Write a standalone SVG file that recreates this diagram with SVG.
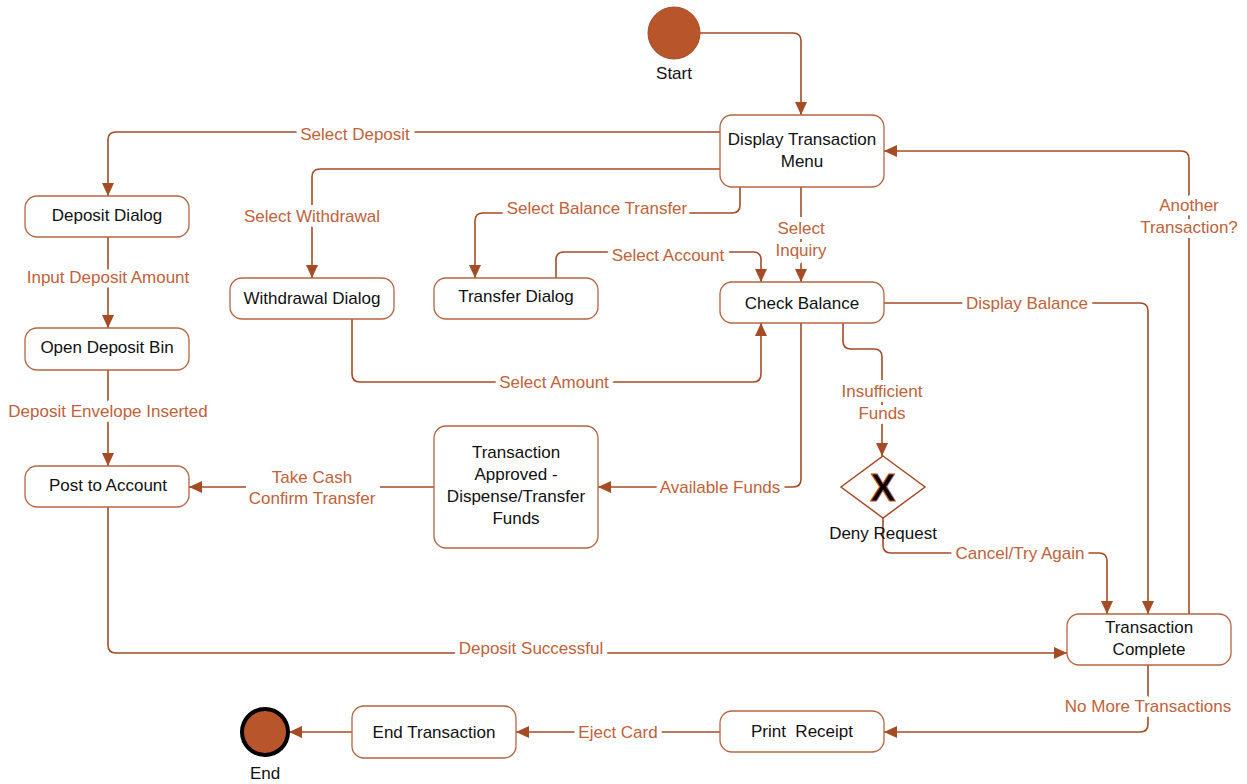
<svg xmlns="http://www.w3.org/2000/svg" width="1247" height="784" viewBox="0 0 1247 784">
<style>
.node rect{fill:#fff;stroke:#B5653F;stroke-width:1.3}
.nt{font-family:"Liberation Sans",Arial,sans-serif;font-size:17px;fill:#111;text-anchor:middle;dominant-baseline:central}
.lbl{font-family:"Liberation Sans",Arial,sans-serif;font-size:17px;fill:#C0623A;text-anchor:middle;dominant-baseline:central;stroke:#fff;stroke-width:10;paint-order:stroke;stroke-linejoin:round}
.c{fill:none;stroke:#A44C24;stroke-width:1.6;marker-end:url(#ah)}
</style>
<defs>
<marker id="ah" markerUnits="userSpaceOnUse" markerWidth="13" markerHeight="12" refX="13" refY="6" orient="auto">
<path d="M0,0 L13,6 L0,12 z" fill="#A44C24"/>
</marker>
</defs>
<rect width="1247" height="784" fill="#fff"/>
<g id="connectors">
<path class="c" d="M700,33 H793 Q801,33 801,41 V115"/>
<path class="c" d="M720,132 H116 Q108,132 108,140 V196"/>
<path class="c" d="M720,169 H320 Q312,169 312,177 V278"/>
<path class="c" d="M740,187 V205 Q740,213 732,213 H483 Q475,213 475,221 V278"/>
<path class="c" d="M801,187 V282"/>
<path class="c" d="M556,278 V260 Q556,252 564,252 H753 Q761,252 761,260 V282"/>
<path class="c" d="M352,319 V374 Q352,382 360,382 H753 Q761,382 761,374 V323"/>
<path class="c" d="M884,303 H1140 Q1148,303 1148,311 V614"/>
<path class="c" d="M843,323 V341 Q843,349 851,349 H874 Q882,349 882,357 V456"/>
<path class="c" d="M801,323 V479 Q801,487 793,487 H598"/>
<path class="c" d="M434,487 H189"/>
<path class="c" d="M883,518 V545 Q883,553 891,553 H1099 Q1107,553 1107,561 V614"/>
<path class="c" d="M1189,614 V159 Q1189,151 1181,151 H884"/>
<path class="c" d="M108,237 V328"/>
<path class="c" d="M108,370 V466"/>
<path class="c" d="M108,507 V645 Q108,653 116,653 H1067"/>
<path class="c" d="M1148,665 V724 Q1148,732 1140,732 H884"/>
<path class="c" d="M720,732 H516"/>
<path class="c" d="M352,732 H289"/>
<rect x="246" y="466" width="134" height="42" fill="#fff"/>
<text class="lbl" x="355" y="134">Select Deposit</text>
<text class="lbl" x="312" y="216">Select Withdrawal</text>
<text class="lbl" x="597" y="208">Select Balance Transfer</text>
<text class="lbl" x="801" y="228">Select</text>
<text class="lbl" x="801" y="250">Inquiry</text>
<text class="lbl" x="668" y="255">Select Account</text>
<text class="lbl" x="554" y="382">Select Amount</text>
<text class="lbl" x="1027" y="303">Display Balance</text>
<text class="lbl" x="882" y="391">Insufficient</text>
<text class="lbl" x="882" y="413">Funds</text>
<text class="lbl" x="720" y="487">Available Funds</text>
<text class="lbl" x="312" y="477">Take Cash</text>
<text class="lbl" x="312" y="498">Confirm Transfer</text>
<text class="lbl" x="1020" y="553">Cancel/Try Again</text>
<text class="lbl" x="1189" y="205">Another</text>
<text class="lbl" x="1189" y="227">Transaction?</text>
<text class="lbl" x="108" y="277">Input Deposit Amount</text>
<text class="lbl" x="108" y="411">Deposit Envelope Inserted</text>
<text class="lbl" x="531" y="648">Deposit Successful</text>
<text class="lbl" x="1148" y="706">No More Transactions</text>
<text class="lbl" x="618" y="732">Eject Card</text>
</g>
<g id="start">
<circle cx="674" cy="33" r="26" fill="#B9552B" stroke="#A44C24" stroke-width="1"/>
<text class="nt" x="674" y="73">Start</text>
</g>
<g id="display-menu" class="node">
<rect x="720" y="115" width="164" height="72" rx="12"/>
<text class="nt" x="802" y="139">Display Transaction</text>
<text class="nt" x="802" y="161">Menu</text>
</g>
<g id="deposit-dialog" class="node">
<rect x="25" y="196" width="164" height="41" rx="12"/>
<text class="nt" x="107" y="215">Deposit Dialog</text>
</g>
<g id="withdrawal-dialog" class="node">
<rect x="230" y="278" width="164" height="41" rx="12"/>
<text class="nt" x="312" y="298">Withdrawal Dialog</text>
</g>
<g id="transfer-dialog" class="node">
<rect x="434" y="278" width="164" height="41" rx="12"/>
<text class="nt" x="516" y="296">Transfer Dialog</text>
</g>
<g id="check-balance" class="node">
<rect x="720" y="282" width="164" height="41" rx="12"/>
<text class="nt" x="802" y="303">Check Balance</text>
</g>
<g id="open-deposit-bin" class="node">
<rect x="25" y="328" width="164" height="42" rx="12"/>
<text class="nt" x="107" y="347">Open Deposit Bin</text>
</g>
<g id="post-to-account" class="node">
<rect x="25" y="466" width="164" height="41" rx="12"/>
<text class="nt" x="108" y="485">Post to Account</text>
</g>
<g id="transaction-approved" class="node">
<rect x="434" y="426" width="164" height="122" rx="12"/>
<text class="nt" x="516" y="452">Transaction</text>
<text class="nt" x="516" y="474">Approved -</text>
<text class="nt" x="516" y="496">Dispense/Transfer</text>
<text class="nt" x="516" y="518">Funds</text>
</g>
<g id="deny-request">
<polygon points="883,456 925,487 883,518 841,487" fill="#fff" stroke="#A44C24" stroke-width="1.5"/>
<text x="883" y="488" font-family="Liberation Sans,Arial,sans-serif" font-size="38" font-weight="bold" fill="#000" stroke="#B9552B" stroke-width="1" text-anchor="middle" dominant-baseline="central">X</text>
<text class="nt" x="883" y="533">Deny Request</text>
</g>
<g id="transaction-complete" class="node">
<rect x="1067" y="614" width="164" height="51" rx="12"/>
<text class="nt" x="1149" y="627">Transaction</text>
<text class="nt" x="1149" y="649">Complete</text>
</g>
<g id="print-receipt" class="node">
<rect x="720" y="711" width="164" height="41" rx="12"/>
<text class="nt" x="802" y="731" xml:space="preserve">Print  Receipt</text>
</g>
<g id="end-transaction" class="node">
<rect x="352" y="706" width="164" height="52" rx="12"/>
<text class="nt" x="434" y="732">End Transaction</text>
</g>
<g id="end">
<circle cx="265" cy="732" r="23" fill="#B9552B" stroke="#000" stroke-width="4"/>
<text class="nt" x="265" y="773">End</text>
</g>
</svg>
